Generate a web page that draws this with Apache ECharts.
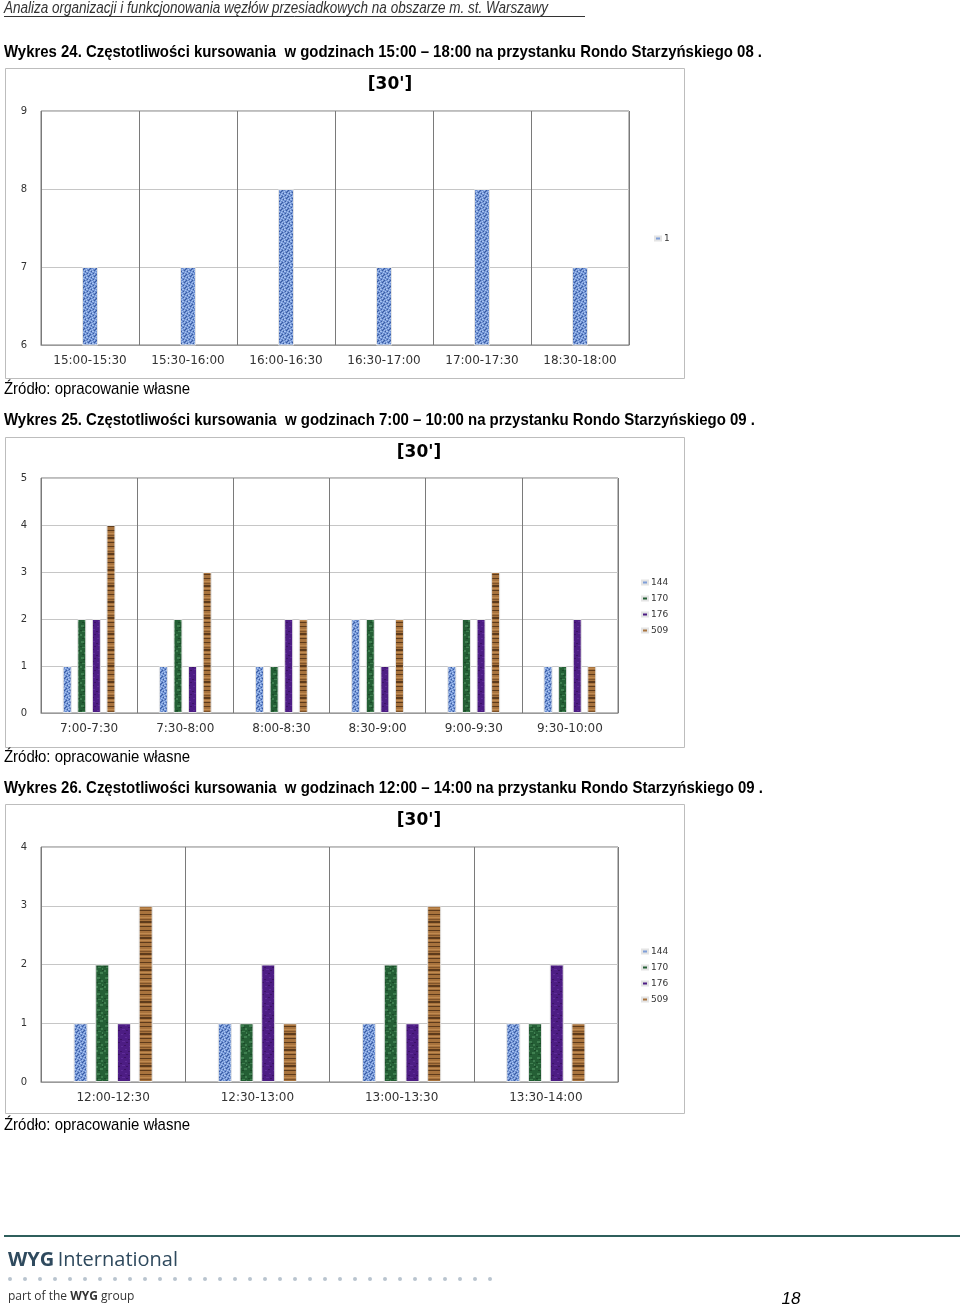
<!DOCTYPE html>
<html><head><meta charset="utf-8">
<script src="https://cdn.jsdelivr.net/npm/echarts@6/dist/echarts.min.js"></script>
<style>html,body{margin:0;padding:0;background:#fff}#c{width:960px;height:1307px}</style>
</head><body><div id="c"></div>
<script>
// ---- data ----
const cats24 = ['15:00-15:30','15:30-16:00','16:00-16:30','16:30-17:00','17:00-17:30','18:30-18:00'];
const vals24_1 = [7,7,8,7,8,7];
const yTicks24 = [6,7,8,9];

const cats25 = ['7:00-7:30','7:30-8:00','8:00-8:30','8:30-9:00','9:00-9:30','9:30-10:00'];
const vals25_144 = [1,1,1,2,1,1];
const vals25_170 = [2,2,1,2,2,1];
const vals25_176 = [2,1,2,1,2,2];
const vals25_509 = [4,3,2,2,3,1];
const yTicks25 = [0,1,2,3,4,5];

const cats26 = ['12:00-12:30','12:30-13:00','13:00-13:30','13:30-14:00'];
const vals26_144 = [1,1,1,1];
const vals26_170 = [2,1,2,1];
const vals26_176 = [1,2,1,2];
const vals26_509 = [3,1,3,1];
const yTicks26 = [0,1,2,3,4];

const lineNames = ['144','170','176','509'];
const headerText = 'Analiza organizacji i funkcjonowania węzłów przesiadkowych na obszarze m. st. Warszawy';
const captions = [
 'Wykres 24. Częstotliwości kursowania  w godzinach 15:00 – 18:00 na przystanku Rondo Starzyńskiego 08 .',
 'Wykres 25. Częstotliwości kursowania  w godzinach 7:00 – 10:00 na przystanku Rondo Starzyńskiego 09 .',
 'Wykres 26. Częstotliwości kursowania  w godzinach 12:00 – 14:00 na przystanku Rondo Starzyńskiego 09 .'
];
const sourceText = 'Źródło: opracowanie własne';
const unitTitle = "[30']";

// ---- texture patterns (style only) ----
function makePattern(w, h, draw){
  const c = document.createElement('canvas'); c.width = w; c.height = h;
  draw(c.getContext('2d')); return c;
}
const patBlue = makePattern(6,6,g=>{
  g.fillStyle='#6a8dd0'; g.fillRect(0,0,6,6);
  g.fillStyle='#a8c3ef'; [[0,0],[3,1],[1,3],[4,4],[2,5],[5,2],[2,1]].forEach(p=>g.fillRect(p[0],p[1],1,1));
  g.fillStyle='#3a5ba0'; [[1,1],[4,0],[0,4],[3,3],[5,5]].forEach(p=>g.fillRect(p[0],p[1],1,1));
  g.fillStyle='#86a6e0'; [[2,0],[5,1],[0,2],[4,3],[1,5],[3,4]].forEach(p=>g.fillRect(p[0],p[1],1,1));
});
const patGreen = makePattern(8,16,g=>{
  g.fillStyle='#245f35'; g.fillRect(0,0,8,16);
  g.fillStyle='#3f7f50'; [[1,1,3,2],[5,4,2,2],[2,7,3,1],[0,10,2,2],[4,12,3,2],[6,8,1,2]].forEach(p=>g.fillRect(p[0],p[1],p[2],p[3]));
  g.fillStyle='#1a4a28'; [[3,3,2,1],[0,6,2,1],[6,10,2,1],[2,14,2,1]].forEach(p=>g.fillRect(p[0],p[1],p[2],p[3]));
});
const patPurple = makePattern(8,12,g=>{
  g.fillStyle='#4d1d84'; g.fillRect(0,0,8,12);
  g.fillStyle='#5f2c98'; [[1,2,2,1],[5,5,2,1],[2,9,3,1]].forEach(p=>g.fillRect(p[0],p[1],p[2],p[3]));
  g.fillStyle='#3c1266'; [[4,1,2,1],[0,7,2,1],[6,10,2,1]].forEach(p=>g.fillRect(p[0],p[1],p[2],p[3]));
});
const patBrown = makePattern(8,16,g=>{
  g.fillStyle='#a8733d'; g.fillRect(0,0,8,16);
  g.fillStyle='#5e3b1b'; g.fillRect(0,2,8,1); g.fillRect(0,9,8,2); g.fillRect(0,14,8,1);
  g.fillStyle='#c08a50'; g.fillRect(0,5,8,1); g.fillRect(0,12,8,1);
  g.fillStyle='#80542a'; g.fillRect(0,7,8,1);
});
const patterns = [patBlue, patGreen, patPurple, patBrown];
const legendColors = ['#7f9fd8','#245f35','#4d1d84','#a8733d'];

// ---- layout ----
const FONT = '"DejaVu Sans", Verdana, sans-serif';
const DOCF = '"Liberation Sans", Arial, sans-serif';
const grids = [
  {left:41, top:111, width:588, height:234},
  {left:41, top:478, width:577, height:235},
  {left:41, top:847, width:577, height:235}
];
const frames = [[5,68,679,310],[5,437,679,310],[5,804,679,309]];
const captionY = [52,420,788];
const captionEnd = [762,755,763];
const sourceY = [389,757,1125];
const titlePos = [[390,85],[419,453],[419,821]];

const mctx = document.createElement('canvas').getContext('2d');
function fitText(text, font, x, y, targetRight, fill){
  mctx.font = font;
  const w = mctx.measureText(text).width;
  const s = (targetRight - x) / w;
  return {type:'text', x:x, y:y, scaleX:s, scaleY:1,
    style:{x:0, y:0, text:text, font:font, fill:fill, verticalAlign:'middle'}};
}

function xAxisFor(i, cats){
  return {type:'category', gridIndex:i, data:cats,
    axisLine:{show:true, lineStyle:{color:'#9a9a9a'}},
    axisTick:{show:false},
    axisLabel:{color:'#333', fontFamily:FONT, fontSize:12, margin:10},
    splitLine:{show:true, lineStyle:{color:'#7a7a7a', width:1}}};
}
function yAxisFor(i, ticks){
  return {type:'value', gridIndex:i, min:ticks[0], max:ticks[ticks.length-1], interval:1,
    axisLine:{show:false}, axisTick:{show:false},
    axisLabel:{color:'#333', fontFamily:FONT, fontSize:10, margin:17, align:'center'},
    splitLine:{show:true, lineStyle:{color:'#c6c6c6', width:1}}};
}
function barSeries(name, gi, data, pat, bw, gap, catGap){
  return {type:'bar', name:name, xAxisIndex:gi, yAxisIndex:gi, data:data,
    barWidth:bw, barGap:gap, barCategoryGap:catGap,
    itemStyle:{color:{image:pat, repeat:'repeat'}, borderColor:'#e4e4e4', borderWidth:1},
    emphasis:{disabled:true}, animation:false};
}

const series = [];
series.push(barSeries('1',0,vals24_1,patBlue,16,'30%','80%'));
const s25 = [vals25_144,vals25_170,vals25_176,vals25_509];
const s26 = [vals26_144,vals26_170,vals26_176,vals26_509];
s25.forEach((d,k)=>series.push(barSeries(lineNames[k],1,d,patterns[k],9,'62%','46%')));
s26.forEach((d,k)=>series.push(barSeries(lineNames[k],2,d,patterns[k],14,'55%','44%')));

const graphic = [];
// header
graphic.push(fitText(headerText, 'italic 16px '+DOCF, 4, 9, 548, '#333'));
graphic.push({type:'line', shape:{x1:4,y1:16.5,x2:585,y2:16.5}, style:{stroke:'#333', lineWidth:1}});
captions.forEach((t,i)=>{
  graphic.push(fitText(t, 'bold 17px '+DOCF, 4, captionY[i], captionEnd[i], '#000'));
  graphic.push(fitText(sourceText, '17px '+DOCF, 4, sourceY[i], 190, '#000'));
  const f = frames[i];
  graphic.push({type:'rect', shape:{x:f[0]+0.5,y:f[1]+0.5,width:f[2],height:f[3]}, style:{fill:'none', stroke:'#bdbdbd', lineWidth:1}, z:-1});
  graphic.push({type:'text', style:{x:titlePos[i][0], y:titlePos[i][1], text:unitTitle, font:'bold 17px '+FONT, fill:'#000', align:'center', verticalAlign:'middle'}});
});
// footer
graphic.push({type:'line', shape:{x1:4,y1:1236,x2:960,y2:1236}, style:{stroke:'#2f5f5c', lineWidth:2}});
graphic.push({type:'text', style:{x:8, y:1260, text:'{b|WYG} {n|International}',
  rich:{b:{font:'bold 20px "Open Sans", "DejaVu Sans", sans-serif', fill:'#2f4a5e'}, n:{font:'20px "Open Sans", "DejaVu Sans", sans-serif', fill:'#2f4a5e'}},
  verticalAlign:'middle'}});
for(let k=0;k<33;k++){
  graphic.push({type:'circle', shape:{cx:10+k*15, cy:1279, r:2}, style:{fill:'#b9c4cf'}});
}
graphic.push({type:'text', style:{x:8, y:1297, text:'{n|part of the }{b|WYG}{n| group}',
  rich:{b:{font:'bold 12px "Open Sans", "DejaVu Sans", sans-serif', fill:'#333'}, n:{font:'12px "Open Sans", "DejaVu Sans", sans-serif', fill:'#333'}},
  verticalAlign:'middle'}});
graphic.push({type:'text', style:{x:791, y:1299, text:'18', font:'italic 17px "Liberation Sans", Arial, sans-serif', fill:'#000', align:'center', verticalAlign:'middle'}});

const legendBase = {orient:'vertical', itemWidth:6, itemHeight:4, itemGap:5, icon:'rect',
  textStyle:{fontFamily:FONT, fontSize:9, color:'#333', lineHeight:11, padding:[0,0,0,-2]}, selectedMode:false};

const option = {
  animation:false,
  backgroundColor:'#fff',
  grid: grids.map(g=>Object.assign({show:true, borderColor:'#7a7a7a', borderWidth:1, backgroundColor:'transparent'}, g)),
  xAxis:[xAxisFor(0,cats24), xAxisFor(1,cats25), xAxisFor(2,cats26)],
  yAxis:[yAxisFor(0,yTicks24), yAxisFor(1,yTicks25), yAxisFor(2,yTicks26)],
  legend:[
    Object.assign({}, legendBase, {left:649, top:228, data:[{name:'1', itemStyle:{color:legendColors[0]}}]}),
    Object.assign({}, legendBase, {left:636, top:572, data:lineNames.map((n,k)=>({name:n, itemStyle:{color:legendColors[k]}}))}),
    Object.assign({}, legendBase, {left:636, top:941, data:lineNames.map((n,k)=>({name:n, itemStyle:{color:legendColors[k]}}))})
  ],
  series: series,
  graphic: graphic
};
const chart = echarts.init(document.getElementById('c'), null, {renderer:'canvas'});
chart.setOption(option);
</script></body></html>
